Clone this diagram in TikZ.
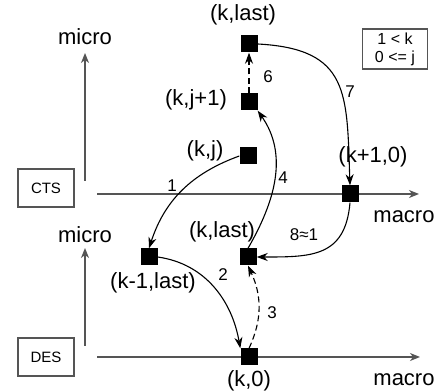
\documentclass[tikz,border=0pt]{standalone}
\usepackage{fontspec}
\setmainfont{Liberation Sans}
\usetikzlibrary{arrows.meta}
\definecolor{axisgray}{RGB}{85,85,85}

\begin{document}
\begin{tikzpicture}[x=1pt,y=1pt,
  state/.style={rectangle,fill=black,minimum size=17pt,inner sep=0pt},
  lbl/.style={font=\fontsize{22}{24}\selectfont,inner sep=0pt},
  elbl/.style={font=\fontsize{17}{19}\selectfont,inner sep=0pt},
  tag/.style={draw=axisgray,line width=1.2pt,minimum width=56pt,minimum height=38pt,
              inner sep=0pt,font=\fontsize{15}{17}\selectfont},
  axis/.style={draw=axisgray,line width=1.4pt,-{Stealth[length=10pt,width=8pt,inset=3pt]}},
  flow/.style={line width=1.1pt,-{Stealth[length=11pt,width=8pt,inset=3.5pt]}},
  alt/.style={dash pattern=on 6pt off 3.5pt},
]
\useasboundingbox (0,0) rectangle (442,391);

% axes: CTS level (top) and DES level (bottom)
\coordinate (ctsY0) at (85,210);
\coordinate (ctsY1) at (85,338);
\coordinate (ctsX0) at (97,197);
\coordinate (ctsX1) at (419,197);
\coordinate (desY0) at (85,45);
\coordinate (desY1) at (85,143);
\coordinate (desX0) at (97,34);
\coordinate (desX1) at (420,34);
\draw[axis] (ctsY0) -- (ctsY1);
\draw[axis] (ctsX0) -- (ctsX1);
\draw[axis] (desY0) -- (desY1);
\draw[axis] (desX0) -- (desX1);

\node[lbl] (microTop) at (85,354) {micro};
\node[lbl] (microLow) at (85,156) {micro};
\node[lbl] (macroTop) at (404,174) {macro};
\node[lbl] (macroLow) at (404,11) {macro};

\node[tag] (cts) at (46,203) {CTS};
\node[tag] (des) at (46,34) {DES};

\node[draw=axisgray,line width=1.2pt,minimum width=65pt,minimum height=40pt,
      inner sep=0pt,align=center,font=\fontsize{16}{18}\selectfont] (cond) at (395,342)
      {1 < k\\0 <= j};

% states
\node[state] (klastTop) at (249,347) {};
\node[state] (kj1)      at (249,289) {};
\node[state] (kj)       at (248,235) {};
\node[state] (k1z)      at (350,197) {};
\node[state] (km1last)  at (149,134) {};
\node[state] (klastLow) at (248,134) {};
\node[state] (kz)       at (249,34)  {};

\node[lbl] (tKlastTop) at (243,376) {(k,last)};
\node[lbl] (tKj1)      at (196,291) {(k,j+1)};
\node[lbl] (tKj)       at (205,240) {(k,j)};
\node[lbl] (tK1z)      at (373,234) {(k+1,0)};
\node[lbl] (tKm1last)  at (153,108) {(k-1,last)};
\node[lbl] (tKlastLow) at (222,159) {(k,last)};
\node[lbl] (tKz)       at (249,10)  {(k,0)};

% transitions
\draw[flow] (kj.west) to[out=200,in=72] (km1last.north);
\draw[flow] (km1last.east) to[out=-8,in=100] (kz.north west);
\draw[flow,alt] (kz.north) to[out=65,in=-65] (klastLow.south);
\draw[flow] (klastLow.north) to[out=60,in=-55] (kj1.south east);
\draw[flow,alt] (kj1.north) -- (klastTop.south);
\draw[flow] (klastTop.east) to[out=-3,in=92,looseness=1.4] (k1z.north);
\draw[flow] (k1z.south) to[out=-95,in=0,looseness=1.3] (klastLow.east);

\node[elbl] (n1) at (172,205) {1};
\node[elbl] (n2) at (223,116) {2};
\node[elbl] (n3) at (272,78)  {3};
\node[elbl] (n4) at (283,213) {4};
\node[elbl] (n6) at (268,314) {6};
\node[elbl] (n7) at (350,299) {7};
\node[elbl] (n8) at (304,156) {8≈1};
\end{tikzpicture}
\end{document}
